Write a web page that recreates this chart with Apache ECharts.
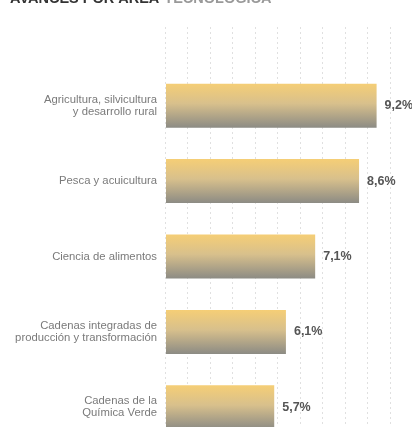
<!DOCTYPE html>
<html>
<head>
<meta charset="utf-8">
<script src="https://cdn.jsdelivr.net/npm/echarts@6/dist/echarts.min.js"></script>
<style>html,body{margin:0;padding:0;background:#fff}#c{width:412px;height:427px}</style>
</head>
<body>
<div id="c"></div>
<script>
const categories = [
  'Agricultura, silvicultura\ny desarrollo rural',
  'Pesca y acuicultura',
  'Ciencia de alimentos',
  'Cadenas integradas de\nproducción y transformación',
  'Cadenas de la\nQuímica Verde'
];
const values = [9.2, 8.6, 7.1, 6.1, 5.7];
const valueLabels = ['9,2%', '8,6%', '7,1%', '6,1%', '5,7%'];

const chart = echarts.init(document.getElementById('c'), null, {renderer: 'canvas'});
chart.setOption({
  animation: false,
  backgroundColor: '#fff',
  title: {
    left: 5, top: -15,
    text: '{a|AVANCES POR ÁREA} {b|TECNOLÓGICA}',
    textStyle: {
      rich: {
        a: {fontSize: 14.5, fontWeight: 'bold', color: '#333', fontFamily: 'Liberation Sans'},
        b: {fontSize: 14.5, fontWeight: 'bold', color: '#999', fontFamily: 'Liberation Sans'}
      }
    }
  },
  grid: [
    {left: 166, width: 234, top: 68, height: 377, outerBoundsMode: 'none', containLabel: false},
    {left: 165, width: 225, top: 27, height: 420, outerBoundsMode: 'none', containLabel: false}
  ],
  xAxis: [
    {type: 'value', gridIndex: 0, min: 2, max: 10, show: false, splitLine: {show: false}},
    {type: 'value', gridIndex: 1, min: 0, max: 10, interval: 1,
     axisLine: {show: false}, axisTick: {show: false}, axisLabel: {show: false},
     splitLine: {show: true, lineStyle: {color: '#e0e0e0', type: [2, 3], width: 1}}}
  ],
  yAxis: [
    {type: 'category', gridIndex: 0, data: categories, inverse: true,
     axisLine: {show: false}, axisTick: {show: false},
     axisLabel: {margin: 9, fontSize: 11.3, color: '#7a7a7a', lineHeight: 12, fontFamily: 'Liberation Sans'}},
    {type: 'category', gridIndex: 1, data: [''], show: false}
  ],
  series: [
    {type: 'bar', xAxisIndex: 0, yAxisIndex: 0, data: values, barWidth: 44, z: 3,
     itemStyle: {
       color: new echarts.graphic.LinearGradient(0, 0, 0, 1, [
         {offset: 0, color: '#f5ce76'},
         {offset: 0.45, color: '#d8c08c'},
         {offset: 1, color: '#8c8b84'}
       ])
     },
     label: {show: true, position: 'right', distance: 8,
       formatter: p => valueLabels[p.dataIndex],
       fontSize: 12.5, fontWeight: 'bold', color: '#555', fontFamily: 'Liberation Sans'}
    },
    {type: 'scatter', xAxisIndex: 1, yAxisIndex: 1, data: [], silent: true}
  ]
});
</script>
</body>
</html>
